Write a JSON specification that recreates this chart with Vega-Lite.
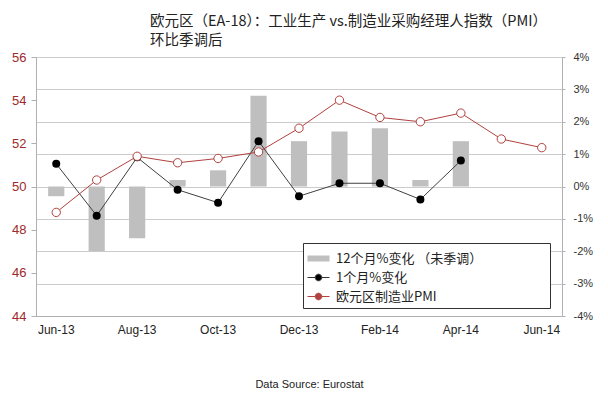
{
  "$schema": "https://vega.github.io/schema/vega-lite/v6.json",
  "autosize": "none",
  "width": 526,
  "height": 259,
  "padding": {"left": 36, "top": 57, "right": 46, "bottom": 93},
  "background": "white",
  "title": {
    "text": ["欧元区（EA-18）：工业生产 vs.制造业采购经理人指数（PMI）", "环比季调后"],
    "anchor": "start",
    "frame": "group",
    "dx": 114,
    "offset": 3,
    "font": "Noto Sans CJK SC",
    "fontSize": 14.5,
    "fontWeight": "normal",
    "lineHeight": 19,
    "color": "#222"
  },
  "data": {
    "values": [
      {"month": "Jun-13", "yoy": -0.3, "mom": 0.7, "pmi": 48.8},
      {"month": "Jul-13", "yoy": -2.0, "mom": -0.9, "pmi": 50.3},
      {"month": "Aug-13", "yoy": -1.6, "mom": 0.9, "pmi": 51.4},
      {"month": "Sep-13", "yoy": 0.2, "mom": -0.1, "pmi": 51.1},
      {"month": "Oct-13", "yoy": 0.5, "mom": -0.5, "pmi": 51.3},
      {"month": "Nov-13", "yoy": 2.8, "mom": 1.4, "pmi": 51.6},
      {"month": "Dec-13", "yoy": 1.4, "mom": -0.3, "pmi": 52.7},
      {"month": "Jan-14", "yoy": 1.7, "mom": 0.1, "pmi": 54.0},
      {"month": "Feb-14", "yoy": 1.8, "mom": 0.1, "pmi": 53.2},
      {"month": "Mar-14", "yoy": 0.2, "mom": -0.4, "pmi": 53.0},
      {"month": "Apr-14", "yoy": 1.4, "mom": 0.8, "pmi": 53.4},
      {"month": "May-14", "yoy": null, "mom": null, "pmi": 52.2},
      {"month": "Jun-14", "yoy": null, "mom": null, "pmi": 51.8}
    ]
  },
  "encoding": {
    "x": {
      "field": "month",
      "type": "nominal",
      "sort": null,
      "scale": {"paddingInner": 0, "paddingOuter": 0},
      "axis": {
        "values": ["Jun-13", "Aug-13", "Oct-13", "Dec-13", "Feb-14", "Apr-14", "Jun-14"],
        "labelAngle": 0,
        "labelFont": "Liberation Sans",
        "labelFontSize": 12,
        "labelColor": "#222",
        "labelPadding": 8,
        "ticks": false,
        "domainColor": "#b0b0b0",
        "title": "Data Source: Eurostat",
        "titleFont": "Liberation Sans",
        "titleFontSize": 11,
        "titleFontWeight": "normal",
        "titleColor": "#222",
        "titleX": 273,
        "titleY": 68,
        "titleAlign": "center",
        "titleBaseline": "middle"
      }
    }
  },
  "layer": [
    {
      "mark": {"type": "bar", "width": {"band": 0.4}, "color": "#bfbfbf"},
      "encoding": {
        "y": {
          "field": "yoy",
          "type": "quantitative",
          "scale": {"domain": [-4, 4], "nice": false},
          "axis": {
            "orient": "right",
            "values": [-4, -3, -2, -1, 0, 1, 2, 3, 4],
            "labelExpr": "datum.value + '%'",
            "grid": true,
            "gridColor": "#cccccc",
            "gridWidth": 1,
            "domainColor": "#b0b0b0",
            "tickColor": "#b0b0b0",
            "tickSize": 3,
            "labelFont": "Liberation Sans",
            "labelFontSize": 11,
            "labelColor": "#333",
            "labelPadding": 8,
            "title": null
          }
        },
        "color": {
          "datum": "12个月%变化 （未季调）",
          "scale": {
            "domain": ["12个月%变化 （未季调）", "1个月%变化", "欧元区制造业PMI"],
            "range": ["#bfbfbf", "#000000", "#b0413e"]
          },
          "legend": {
            "orient": "none",
            "legendX": 267,
            "legendY": 186,
            "title": null,
            "padding": 4,
            "strokeColor": "#333",
            "fillColor": "white",
            "labelFont": "Noto Sans CJK SC",
            "labelFontSize": 13,
            "labelColor": "#222",
            "labelOffset": 6,
            "labelLimit": 400,
            "symbolSize": 484,
            "rowPadding": -5,
            "encode": {
              "symbols": {
                "update": {
                  "shape": {"signal": "datum.index === 0 ? 'M-1,-0.27H1V0.27H-1ZM20.5,0' : 'M-1,0H-0.3M0.3,0H1M-0.3,0A0.3,0.3 0 1 1 0.3,0A0.3,0.3 0 1 1 -0.3,0'"},
                  "fill": {"signal": "datum.index === 0 ? '#bfbfbf' : datum.index === 1 ? '#000000' : '#ffffff'"},
                  "stroke": {"signal": "datum.index === 0 ? 'transparent' : datum.index === 1 ? '#333333' : '#b0413e'"},
                  "strokeWidth": {"value": 1},
                  "opacity": {"value": 1}
                }
              }
            }
          }
        }
      }
    },
    {
      "mark": {
        "type": "line",
        "stroke": "#404040",
        "strokeWidth": 1,
        "point": {"filled": true, "fill": "#000000", "size": 64}
      },
      "encoding": {
        "y": {
          "field": "mom",
          "type": "quantitative",
          "scale": {"domain": [-4, 4], "nice": false},
          "axis": null
        }
      }
    },
    {
      "mark": {
        "type": "line",
        "stroke": "#b0413e",
        "strokeWidth": 1,
        "point": {"filled": true, "fill": "#ffffff", "stroke": "#b0413e", "strokeWidth": 1, "size": 70}
      },
      "encoding": {
        "y": {
          "field": "pmi",
          "type": "quantitative",
          "scale": {"domain": [44, 56], "nice": false},
          "axis": {
            "orient": "left",
            "values": [44, 46, 48, 50, 52, 54, 56],
            "grid": false,
            "domainColor": "#b0b0b0",
            "tickColor": "#b0b0b0",
            "tickSize": 5,
            "labelFont": "Liberation Sans",
            "labelFontSize": 13,
            "labelColor": "#9e2a2b",
            "labelPadding": 5,
            "title": null
          }
        }
      }
    }
  ],
  "resolve": {"scale": {"y": "independent"}},
  "config": {
    "view": {"stroke": null}
  }
}
